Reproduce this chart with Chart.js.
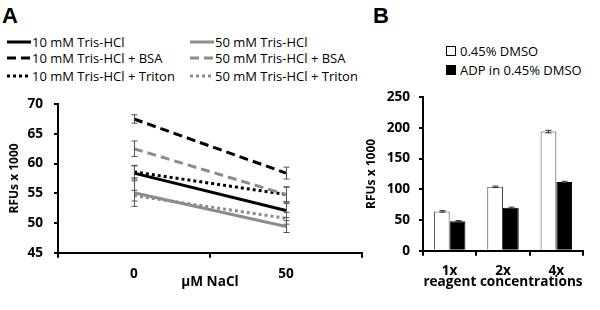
<!DOCTYPE html>
<html>
<head>
<meta charset="utf-8">
<script src="https://cdn.jsdelivr.net/npm/chart.js@4"></script>
<style>
body{margin:0;background:#fff;font-family:"Open Sans",sans-serif;color:#000}
#wrap{position:relative;width:600px;height:310px;overflow:hidden}
.panel{position:absolute;font-family:"Liberation Sans",Arial,sans-serif;font-weight:bold;font-size:22px;line-height:22px}
.leg{position:absolute;font-size:13px;line-height:16px;white-space:nowrap;display:flex;align-items:center}
.leg svg{margin-right:1px}
.box{display:inline-block;width:8px;height:8px;border:1px solid #000;margin-right:4px}
canvas{position:absolute}
</style>
</head>
<body>
<div id="wrap">
  <div class="panel" style="left:2px;top:5px">A</div>
  <div class="panel" style="left:373px;top:5px">B</div>
  <div id="legA"></div>
  <div id="legB"></div>
  <canvas id="chartA" width="365" height="215" style="left:0;top:85px"></canvas>
  <canvas id="chartB" width="238" height="225" style="left:362px;top:80px"></canvas>
</div>
<script>
// panel A data
const naclLabels = ['0', '50'];
const tris10 = [58.4, 52.1];
const tris10Err = [1.3, 1.2];
const tris10Bsa = [67.5, 58.4];
const tris10BsaErr = [0.7, 1.0];
const tris10Triton = [58.6, 54.8];
const tris10TritonErr = [1.0, 1.2];
const tris50 = [55.1, 49.4];
const tris50Err = [2.3, 1.0];
const tris50Bsa = [62.5, 54.8];
const tris50BsaErr = [1.3, 1.3];
const tris50Triton = [54.6, 50.8];
const tris50TritonErr = [0.9, 1.0];

// panel B data
const reagentLabels = ['1x', '2x', '4x'];
const dmso = [64, 104, 194];
const dmsoErr = [1.2, 1.2, 2.0];
const adpDmso = [48, 70, 112];
const adpDmsoErr = [1.0, 1.0, 1.0];

const GRAY = '#8c8c8c';
const tickFont = {family: 'Open Sans', size: 13.6, weight: 'bold'};

const errorBars = {
    id: 'errorBars',
    afterDatasetsDraw(chart, args, opts) {
        const ctx = chart.ctx;
        const y = chart.scales.y;
        chart.data.datasets.forEach((ds, i) => {
            if (!ds.errors) return;
            const meta = chart.getDatasetMeta(i);
            meta.data.forEach((el, j) => {
                const v = ds.data[j], e = ds.errors[j];
                const top = y.getPixelForValue(v + e);
                const bot = y.getPixelForValue(v - e);
                const x = Math.round(el.x) + 0.5;
                ctx.save();
                ctx.strokeStyle = opts.color;
                ctx.lineWidth = 1;
                ctx.beginPath();
                ctx.moveTo(x, top); ctx.lineTo(x, bot);
                ctx.moveTo(x - opts.cap, top); ctx.lineTo(x + opts.cap, top);
                ctx.moveTo(x - opts.cap, bot); ctx.lineTo(x + opts.cap, bot);
                ctx.stroke();
                ctx.restore();
            });
        });
    }
};

function line(label, data, errors, color, dash) {
    return {label: label, data: data, errors: errors, borderColor: color,
        backgroundColor: color, borderDash: dash, borderWidth: 3,
        pointRadius: 0, tension: 0, fill: false};
}

// legend order is row-major, two columns
let datasetsA = [
    line('10 mM Tris-HCl', tris10, tris10Err, '#000', []),
    line('50 mM Tris-HCl', tris50, tris50Err, GRAY, []),
    line('10 mM Tris-HCl + BSA', tris10Bsa, tris10BsaErr, '#000', [9, 5]),
    line('50 mM Tris-HCl + BSA', tris50Bsa, tris50BsaErr, GRAY, [9, 5]),
    line('10 mM Tris-HCl + Triton', tris10Triton, tris10TritonErr, '#000', [3, 3]),
    line('50 mM Tris-HCl + Triton', tris50Triton, tris50TritonErr, GRAY, [3, 3])
];

let legA = document.getElementById('legA');
datasetsA.forEach((ds, i) => {
    let d = document.createElement('div');
    d.className = 'leg';
    d.style.left = (i % 2 ? 190 : 7) + 'px';
    d.style.top = ([41.7, 58.3, 76][Math.floor(i / 2)] - 8) + 'px';
    d.innerHTML = '<svg width="24" height="6"><line x1="0" y1="3" x2="24" y2="3" stroke="' + ds.borderColor +
        '" stroke-width="3" stroke-dasharray="' + (ds.borderDash.length ? ds.borderDash.join(',') : 'none') + '"/></svg>' +
        '<span>' + ds.label + '</span>';
    legA.appendChild(d);
});

new Chart(document.getElementById('chartA'), {
    type: 'line',
    data: {labels: naclLabels, datasets: datasetsA},
    options: {
        responsive: false,
        animation: false,
        layout: {padding: {top: 13, right: 3, left: 0, bottom: 0}},
        plugins: {legend: {display: false}, tooltip: {enabled: false},
            errorBars: {cap: 3, color: '#555'}},
        scales: {
            x: {
                offset: true,
                grid: {offset: true, drawOnChartArea: false, tickLength: 5, color: '#000', lineWidth: 2},
                border: {color: '#000', width: 2},
                ticks: {font: tickFont, color: '#000', padding: 8},
                title: {display: true, text: 'µM NaCl', font: tickFont, color: '#000', padding: {top: 0, bottom: 10}},
                afterFit(s) { s.height = 47.3; }
            },
            y: {
                min: 45, max: 70,
                ticks: {stepSize: 5, font: tickFont, color: '#000', padding: 11},
                grid: {drawOnChartArea: false, tickLength: 4, color: '#000', lineWidth: 2},
                border: {color: '#000', width: 2},
                title: {display: true, text: 'RFUs x 1000', font: {family: 'Open Sans', size: 12, weight: 'bold'},
                    color: '#000', padding: {top: 7, bottom: 0}},
                afterFit(s) { s.width = 58; }
            }
        }
    },
    plugins: [errorBars]
});

let datasetsB = [
    {label: '0.45% DMSO', data: dmso, errors: dmsoErr, backgroundColor: '#fff', borderColor: '#444', borderWidth: 1},
    {label: 'ADP in 0.45% DMSO', data: adpDmso, errors: adpDmsoErr, backgroundColor: '#000', borderColor: '#000', borderWidth: 1}
];

let legB = document.getElementById('legB');
datasetsB.forEach((ds, i) => {
    let d = document.createElement('div');
    d.className = 'leg';
    d.style.left = '446px';
    d.style.top = ([51, 70][i] - 8) + 'px';
    d.innerHTML = '<span class="box" style="background:' + ds.backgroundColor + '"></span><span>' + ds.label + '</span>';
    legB.appendChild(d);
});

new Chart(document.getElementById('chartB'), {
    type: 'bar',
    data: {labels: reagentLabels, datasets: datasetsB},
    options: {
        responsive: false,
        animation: false,
        layout: {padding: {top: 10, right: 17, left: 0, bottom: 0}},
        datasets: {bar: {categoryPercentage: 0.59, barPercentage: 1.0}},
        plugins: {legend: {display: false}, tooltip: {enabled: false},
            errorBars: {cap: 3, color: '#333'}},
        scales: {
            x: {
                grid: {offset: true, drawOnChartArea: false, tickLength: 5, color: '#000', lineWidth: 2},
                border: {color: '#000', width: 2},
                ticks: {font: tickFont, color: '#000', padding: 7},
                title: {display: true, text: 'reagent concentrations', font: tickFont, color: '#000', padding: {top: 0, bottom: 14.5}},
                afterFit(s) { s.height = 54.3; }
            },
            y: {
                min: 0, max: 250,
                ticks: {stepSize: 50, font: tickFont, color: '#000', padding: 9},
                grid: {drawOnChartArea: false, tickLength: 4, color: '#000', lineWidth: 2},
                border: {color: '#000', width: 2},
                title: {display: true, text: 'RFUs x 1000', font: {family: 'Open Sans', size: 12, weight: 'bold'},
                    color: '#000', padding: {top: 2, bottom: 0}},
                afterFit(s) { s.width = 61; }
            }
        }
    },
    plugins: [errorBars]
});
</script>
</body>
</html>
